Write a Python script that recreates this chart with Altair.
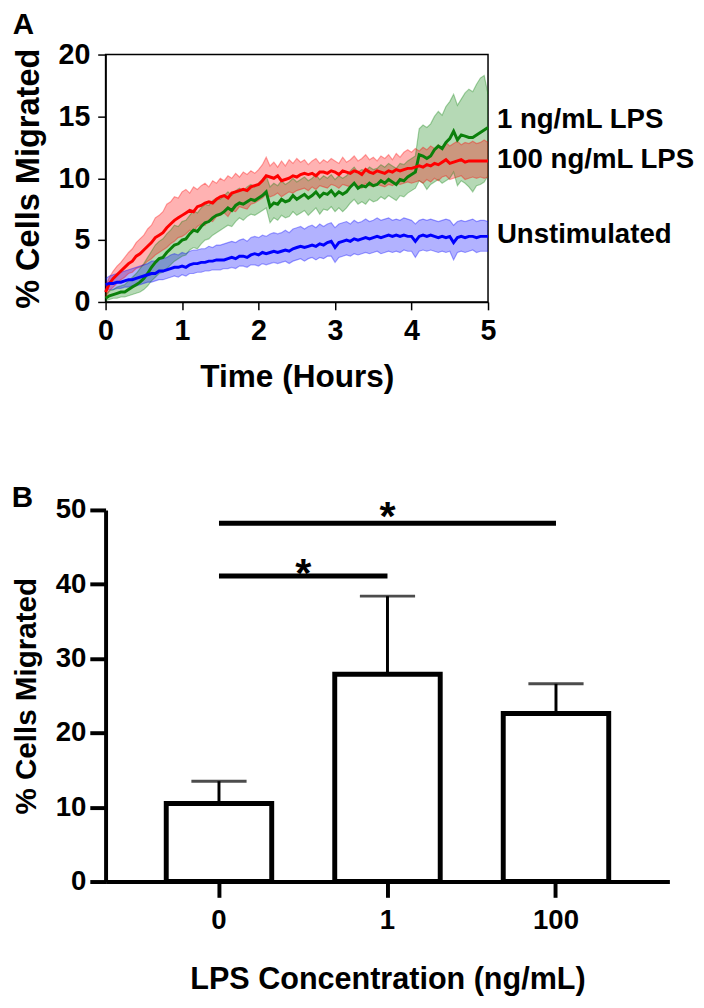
import altair as alt
import pandas as pd

F = "Liberation Sans"

# ---------------- Panel A data (time step 0.05 h, 0 .. 5 h) ----------------
STEP = 0.05
series_names = ["1 ng/mL LPS", "100 ng/mL LPS", "Unstimulated"]
series_colors = ["#0b800b", "#ff0000", "#0000ff"]
label_y = [14.7, 11.5, 5.4]

red_mean = [0.8, 1.5, 1.9, 2.2, 2.5, 2.8, 3.1, 3.3, 3.7, 3.9,
            4.2, 4.5, 4.8, 5.2, 5.4, 5.6, 6.0, 6.3, 6.6, 6.8,
            7.0, 7.2, 7.4, 7.3, 7.7, 7.8, 8.0, 8.1, 8.0, 8.3,
            8.5, 8.6, 8.4, 8.8, 8.9, 9.0, 9.1, 9.0, 9.3, 9.4,
            9.5, 9.8, 10.2, 10.1, 10.0, 10.2, 9.8, 9.9, 10.0, 10.2,
            10.1, 10.3, 10.4, 10.3, 10.4, 10.2, 10.5, 10.5, 10.4, 10.6,
            10.5, 10.3, 10.6, 10.5, 10.4, 10.6, 10.5, 10.3, 10.7, 10.5,
            10.4, 10.6, 10.5, 10.4, 10.6, 10.5, 10.7, 10.6, 10.7, 10.8,
            10.8, 10.9, 11.0, 10.9, 11.1, 11.0, 11.2, 11.1, 11.3, 11.5,
            11.2, 11.3, 11.4, 11.5, 11.3, 11.4, 11.4, 11.4, 11.4, 11.4,
            11.4]
red_hi = [1.3, 2.0, 2.5, 2.9, 3.2, 3.6, 4.0, 4.3, 4.8, 5.1,
          5.4, 5.9, 6.2, 6.8, 7.0, 7.3, 7.9, 8.1, 8.5, 8.4,
          8.9, 9.1, 8.8, 9.3, 9.1, 9.4, 9.6, 9.3, 9.8, 9.6,
          10.0, 9.8, 10.2, 10.0, 10.4, 10.1, 10.5, 10.3, 10.6, 10.4,
          10.7, 11.1, 11.7, 11.0, 11.3, 10.9, 11.4, 11.0, 11.5, 11.2,
          11.6, 11.3, 11.5, 11.1, 11.4, 11.6, 11.2, 11.5, 11.3, 11.6,
          11.4, 11.2, 11.7, 11.3, 11.5, 11.8, 11.4, 11.6, 11.9, 11.5,
          11.7, 11.4, 11.8, 11.6, 11.9, 11.5, 12.0, 11.7, 12.1, 12.3,
          12.1, 12.4, 12.2, 12.5, 12.3, 12.6, 12.4, 12.7, 12.5, 12.9,
          12.6, 12.8, 13.0, 12.7, 12.9, 12.8, 13.0, 12.8, 12.9, 13.1,
          12.9]
red_lo = [0.4, 0.9, 1.2, 1.5, 1.8, 2.0, 2.3, 2.4, 2.7, 2.8,
          3.0, 3.3, 3.5, 3.8, 4.0, 4.2, 4.4, 4.7, 4.9, 5.2,
          5.3, 5.5, 5.8, 5.7, 6.1, 6.3, 6.2, 6.6, 6.5, 6.9,
          7.0, 7.2, 6.9, 7.4, 7.3, 7.7, 7.6, 7.5, 7.9, 8.0,
          8.2, 8.4, 8.7, 8.5, 8.6, 8.8, 8.5, 8.7, 8.9, 8.8,
          9.0, 9.1, 9.2, 9.0, 9.3, 9.1, 9.4, 9.3, 9.2, 9.5,
          9.4, 9.2, 9.5, 9.4, 9.3, 9.5, 9.4, 9.2, 9.6, 9.4,
          9.3, 9.5, 9.4, 9.3, 9.5, 9.4, 9.6, 9.5, 9.6, 9.7,
          9.6, 9.7, 9.8, 9.6, 9.9, 9.7, 10.0, 9.8, 10.1, 10.2,
          9.9, 10.0, 10.1, 10.2, 9.9, 10.0, 10.1, 10.0, 10.1, 10.0,
          10.1]

green_mean = [0.3, 0.5, 0.6, 0.7, 0.8, 0.8, 1.0, 1.2, 1.4, 1.6,
              1.9, 2.3, 2.8, 3.2, 3.5, 3.6, 4.0, 4.3, 4.6, 4.7,
              5.0, 5.1, 5.5, 5.8, 5.7, 6.1, 6.4, 6.5, 6.8, 7.0,
              7.1, 7.3, 7.6, 7.4, 7.8, 8.0, 7.9, 8.1, 8.3, 8.2,
              8.4, 8.6, 8.9, 7.7, 8.0, 7.9, 8.3, 8.1, 8.2, 8.6,
              8.3, 8.5, 8.7, 8.4, 8.6, 8.9, 8.5, 8.8, 8.7, 9.0,
              8.6, 8.9, 8.7, 8.9, 9.3, 9.6, 9.2, 9.4, 9.3, 9.6,
              9.4, 9.5, 9.8, 9.6, 9.9, 9.7, 9.5, 9.9, 9.8, 10.1,
              10.3, 10.5, 11.9, 11.8, 11.6, 11.8, 12.3, 12.6, 12.4, 12.9,
              13.2, 13.8, 13.1, 13.5, 13.4, 13.3, 13.3, 13.5, 13.7, 13.9,
              14.1]
green_hi = [0.6, 0.9, 1.0, 1.2, 1.3, 1.4, 1.7, 2.0, 2.3, 2.7,
            3.1, 3.6, 4.1, 4.6, 4.9, 5.1, 5.5, 5.8, 6.2, 6.1,
            6.5, 6.6, 7.0, 7.4, 7.2, 7.6, 7.9, 7.8, 8.2, 8.4,
            8.3, 8.6, 8.9, 8.6, 9.0, 9.2, 9.0, 9.3, 9.5, 9.3,
            9.6, 9.9, 10.2, 9.3, 9.6, 9.4, 9.8, 9.5, 9.7, 10.0,
            9.7, 9.9, 10.1, 9.8, 10.0, 10.3, 9.9, 10.2, 10.0, 10.3,
            9.9, 10.2, 10.0, 10.2, 10.6, 10.9, 10.5, 10.7, 10.6, 10.9,
            10.7, 10.8, 11.1, 10.9, 11.2, 11.0, 10.8, 11.2, 11.1, 11.4,
            11.6, 11.8, 14.0, 14.3, 14.1, 14.4, 15.0, 15.4, 15.1, 15.8,
            16.2, 16.8, 15.9, 16.4, 16.9, 17.2, 17.0, 17.6, 18.1, 18.3,
            16.8]
green_lo = [0.1, 0.2, 0.3, 0.3, 0.4, 0.4, 0.5, 0.6, 0.7, 0.8,
            1.0, 1.3, 1.7, 2.0, 2.3, 2.4, 2.7, 3.0, 3.3, 3.5,
            3.7, 3.8, 4.2, 4.4, 4.3, 4.7, 5.0, 5.1, 5.4, 5.6,
            5.8, 6.0, 6.2, 6.1, 6.5, 6.8, 6.6, 6.9, 7.1, 7.0,
            7.2, 7.4, 7.6, 6.4, 6.8, 6.6, 7.0, 6.8, 6.9, 7.3,
            7.0, 7.2, 7.4, 7.0, 7.3, 7.6, 7.1, 7.5, 7.4, 7.7,
            7.3, 7.6, 7.3, 7.6, 8.0, 8.3, 7.9, 8.1, 7.9, 8.3,
            8.1, 8.2, 8.5, 8.3, 8.6, 8.4, 8.2, 8.6, 8.5, 8.8,
            9.0, 9.2, 9.8, 9.6, 9.1, 9.5, 9.7, 9.9, 9.6, 9.8,
            10.0, 10.5, 9.4, 9.8, 9.6, 9.3, 8.9, 9.4, 9.5, 9.7,
            10.2]

blue_mean = [1.4, 1.5, 1.5, 1.6, 1.6, 1.7, 1.8, 1.8, 1.9, 2.0,
             2.1, 2.2, 2.3, 2.3, 2.5, 2.5, 2.6, 2.7, 2.8, 2.8,
             2.9, 2.8, 3.0, 3.1, 3.1, 3.2, 3.2, 3.3, 3.3, 3.4,
             3.4, 3.4, 3.5, 3.6, 3.5, 3.7, 3.7, 3.6, 3.8, 3.9,
             3.8, 4.0, 3.9, 4.0, 4.1, 4.0, 4.1, 4.2, 4.1, 4.3,
             4.4, 4.5, 4.4, 4.5, 4.6, 4.5, 4.7, 4.6, 4.8, 4.9,
             4.4, 4.8, 4.9, 5.0, 4.9, 5.1, 5.0, 5.1, 5.2, 5.1,
             5.2, 5.3, 5.2, 5.3, 5.4, 5.3, 5.4, 5.3, 5.4, 5.3,
             5.3, 4.9, 5.3, 5.4, 5.3, 5.4, 5.3, 5.2, 5.3, 5.2,
             5.3, 4.8, 5.2, 5.3, 5.2, 5.3, 5.3, 5.2, 5.3, 5.3,
             5.3]
blue_hi = [1.9, 2.1, 2.2, 2.3, 2.4, 2.5, 2.6, 2.7, 2.8, 2.9,
           3.0, 3.1, 3.3, 3.3, 3.5, 3.5, 3.6, 3.8, 3.9, 3.8,
           4.0, 3.9, 4.1, 4.2, 4.2, 4.3, 4.3, 4.5, 4.4, 4.6,
           4.6, 4.7, 4.8, 4.9, 4.8, 5.0, 5.1, 4.9, 5.2, 5.3,
           5.2, 5.4, 5.3, 5.5, 5.6, 5.5, 5.6, 5.8, 5.6, 5.9,
           6.0, 6.1, 5.9, 6.1, 6.2, 6.0, 6.3, 6.1, 6.3, 6.4,
           6.0, 6.3, 6.4, 6.5, 6.3, 6.6, 6.4, 6.5, 6.7, 6.5,
           6.6, 6.8, 6.6, 6.7, 6.8, 6.6, 6.7, 6.6, 6.8, 6.7,
           6.6, 6.3, 6.6, 6.7, 6.6, 6.7, 6.6, 6.5, 6.6, 6.7,
           6.6, 6.2, 6.5, 6.6, 6.5, 6.6, 6.7, 6.5, 6.6, 6.6,
           6.5]
blue_lo = [1.0, 1.0, 1.0, 1.1, 1.1, 1.2, 1.2, 1.3, 1.3, 1.4,
           1.5, 1.6, 1.6, 1.7, 1.8, 1.8, 1.9, 2.0, 2.1, 2.0,
           2.2, 2.1, 2.3, 2.3, 2.4, 2.4, 2.5, 2.5, 2.6, 2.6,
           2.6, 2.7, 2.7, 2.8, 2.7, 2.9, 2.9, 2.8, 3.0, 3.0,
           2.9, 3.1, 3.0, 3.1, 3.2, 3.1, 3.2, 3.3, 3.1, 3.3,
           3.4, 3.5, 3.3, 3.5, 3.6, 3.4, 3.6, 3.5, 3.7, 3.7,
           3.2, 3.6, 3.7, 3.8, 3.7, 3.9, 3.8, 3.9, 4.0, 3.9,
           4.0, 4.1, 3.9, 4.0, 4.1, 4.0, 4.1, 4.0, 4.2, 4.1,
           4.1, 3.6, 4.1, 4.2, 4.1, 4.2, 4.1, 4.0, 4.1, 4.0,
           4.1, 3.4, 4.0, 4.1, 4.0, 4.1, 4.2, 4.0, 4.1, 4.1,
           4.1]

# ---------------- Panel B data ----------------
conc_cats = ["0", "1", "100"]
bar_means = [10.5, 27.9, 22.6]
bar_errs = [3.0, 10.5, 4.0]
sig_start = ["0", "0"]
sig_end = ["1", "100"]
sig_y = [41.1, 48.2]
star_x = ["0", "1"]
star_y = [42.7, 50.3]


def build(name, mean, lo, hi):
    n = min(len(mean), len(lo), len(hi))
    return pd.DataFrame({
        "series": name,
        "t": [round(i * STEP, 3) for i in range(n)],
        "mean": mean[:n], "lo": lo[:n], "hi": hi[:n],
    })


dfA = pd.concat([
    build(series_names[0], green_mean, green_lo, green_hi),
    build(series_names[1], red_mean, red_lo, red_hi),
    build(series_names[2], blue_mean, blue_lo, blue_hi),
], ignore_index=True)
dfL = pd.DataFrame({"series": series_names, "t": [5.0] * 3, "y": label_y})

xA_axis = alt.Axis(values=[0, 1, 2, 3, 4, 5], format="d", title="Time (Hours)", grid=False,
                   tickSize=8, tickWidth=1.5, tickColor="black", domainWidth=1.5, domainColor="black",
                   labelFont=F, labelFontSize=29, labelFontWeight="bold", labelColor="black",
                   labelPadding=7, labelFlush=False,
                   titleFont=F, titleFontSize=32, titleFontWeight="bold", titleColor="black",
                   titlePadding=17)
yA_axis = alt.Axis(values=[0, 5, 10, 15, 20], title="% Cells Migrated", grid=False,
                   tickSize=8, tickWidth=1.5, tickColor="black", domainWidth=1.5, domainColor="black",
                   labelFont=F, labelFontSize=29, labelFontWeight="bold", labelColor="black",
                   labelPadding=8, labelFlush=False,
                   titleFont=F, titleFontSize=33, titleFontWeight="bold", titleColor="black",
                   titlePadding=13)
xA = alt.X("t:Q", scale=alt.Scale(domain=[0, 5], nice=False, zero=False), axis=xA_axis)
ysc = alt.Scale(domain=[0, 20], nice=False)
colA = alt.Color("series:N", scale=alt.Scale(domain=series_names, range=series_colors), legend=None)

baseA = alt.Chart(dfA)
bands = baseA.mark_area(opacity=0.3).encode(
    x=xA, y=alt.Y("lo:Q", scale=ysc, axis=yA_axis), y2="hi:Q", color=colA)
edge_lo = baseA.mark_line(strokeWidth=1.2, opacity=0.35).encode(
    x=xA, y=alt.Y("lo:Q", scale=ysc, axis=yA_axis), color=colA)
edge_hi = baseA.mark_line(strokeWidth=1.2, opacity=0.35).encode(
    x=xA, y=alt.Y("hi:Q", scale=ysc, axis=yA_axis), color=colA)
lines = baseA.mark_line(strokeWidth=3).encode(
    x=xA, y=alt.Y("mean:Q", scale=ysc, axis=yA_axis), color=colA)
labels = alt.Chart(dfL).mark_text(align="left", baseline="middle", dx=9, font=F, fontSize=28,
                                  fontWeight="bold", color="black").encode(
    x=xA, y=alt.Y("y:Q", scale=ysc, axis=yA_axis), text="series:N")

chartA = alt.layer(bands, edge_lo, edge_hi, lines, labels).properties(
    width=388, height=251,
    title=alt.TitleParams("A", anchor="start", frame="bounds", font=F, fontSize=30,
                          fontWeight="bold", color="black", offset=1),
    view=alt.ViewBackground(stroke="black", strokeWidth=1.5),
)

# ---------------- Panel B ----------------
WB, HB = 572, 377
P_IN, P_OUT = 0.374, 0.36
step = WB / (len(conc_cats) - P_IN + 2 * P_OUT)

dfB = pd.DataFrame({"conc": conc_cats, "mean": bar_means,
                    "upper": [m + e for m, e in zip(bar_means, bar_errs)]})
dfS = pd.DataFrame({"a": sig_start, "b": sig_end, "y": sig_y})

xB_scale = alt.Scale(domain=conc_cats, paddingInner=P_IN, paddingOuter=P_OUT)
xB_axis = alt.Axis(title="LPS Concentration (ng/mL)", labelAngle=0, domain=True,
                   domainWidth=4, domainColor="black",
                   tickSize=16, tickWidth=4, tickColor="black",
                   labelFont=F, labelFontSize=28, labelFontWeight="bold", labelColor="black",
                   labelPadding=10,
                   titleFont=F, titleFontSize=31, titleFontWeight="bold", titleColor="black",
                   titlePadding=31)
yB_axis = alt.Axis(values=[0, 10, 20, 30, 40, 50], title="% Cells Migrated", grid=False,
                   domainWidth=4, domainColor="black", tickSize=16, tickWidth=4, tickColor="black",
                   labelFont=F, labelFontSize=28, labelFontWeight="bold", labelColor="black",
                   labelPadding=4,
                   titleFont=F, titleFontSize=30, titleFontWeight="bold", titleColor="black",
                   titlePadding=14)
yB_scale = alt.Scale(domain=[0, 50], nice=False)
xB = alt.X("conc:N", scale=xB_scale, axis=xB_axis)

baseB = alt.Chart(dfB)
err = baseB.mark_rule(strokeWidth=3, color="black").encode(
    x=xB, y=alt.Y("mean:Q", scale=yB_scale, axis=yB_axis), y2="upper:Q")
cap = baseB.mark_tick(orient="horizontal", size=56, thickness=3, color="black").encode(
    x=xB, y=alt.Y("upper:Q", scale=yB_scale, axis=yB_axis))
bars = baseB.mark_bar(fill="white", stroke="black", strokeWidth=5).encode(
    x=xB, y=alt.Y("mean:Q", scale=yB_scale, axis=yB_axis))
sig = alt.Chart(dfS).mark_rule(strokeWidth=5, color="black").encode(
    x=alt.X("a:N", scale=xB_scale, axis=xB_axis, bandPosition=0.5),
    x2=alt.X2("b:N", bandPosition=0.5),
    y=alt.Y("y:Q", scale=yB_scale, axis=yB_axis))
star1 = alt.Chart(pd.DataFrame({"c": [star_x[0]], "y": [star_y[0]], "s": ["*"]})).mark_text(
    font=F, fontSize=42, fontWeight="bold", color="black", baseline="alphabetic",
    dx=step / 2, dy=23).encode(
    x=alt.X("c:N", scale=xB_scale, axis=xB_axis), y=alt.Y("y:Q", scale=yB_scale, axis=yB_axis), text="s:N")
star2 = alt.Chart(pd.DataFrame({"c": [star_x[1]], "y": [star_y[1]], "s": ["*"]})).mark_text(
    font=F, fontSize=42, fontWeight="bold", color="black", baseline="alphabetic", dy=23).encode(
    x=alt.X("c:N", scale=xB_scale, axis=xB_axis), y=alt.Y("y:Q", scale=yB_scale, axis=yB_axis), text="s:N")

chartB = alt.layer(err, cap, bars, sig, star1, star2).properties(
    width=WB, height=HB,
    title=alt.TitleParams("B", anchor="start", frame="bounds", font=F, fontSize=30,
                          fontWeight="bold", color="black", offset=-17),
    view=alt.ViewBackground(stroke="transparent"),
)

chart = alt.vconcat(chartA, chartB, spacing=90).properties(
    padding={"left": 3, "top": -6, "right": 0, "bottom": 0}
).configure_view(stroke="transparent").configure(background="white")

chart.save("out.html", embed_options={"renderer": "svg", "actions": False})
